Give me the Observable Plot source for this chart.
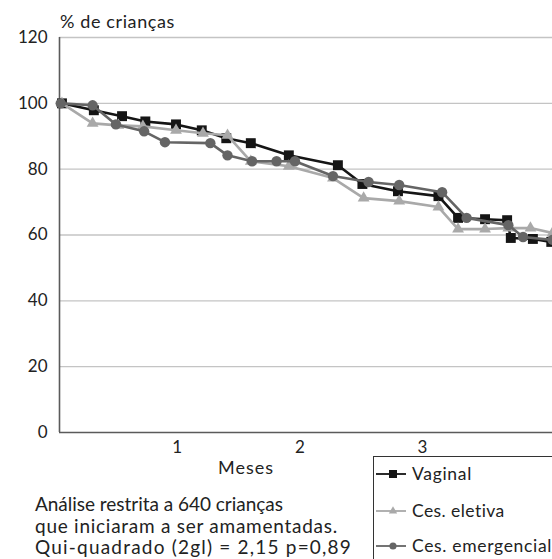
<!DOCTYPE html>
<html><head><meta charset="utf-8">
<script src="https://cdn.jsdelivr.net/npm/d3@7"></script>
<script src="https://cdn.jsdelivr.net/npm/@observablehq/plot@0.6"></script>
<style>
html,body{margin:0;padding:0;background:#fff;overflow:hidden;width:552px;height:559px}
#wrap{position:relative;width:552px;height:559px;font-family:Lato,"DejaVu Sans",sans-serif;color:#222}
.t{position:absolute;white-space:nowrap;line-height:1}
#legend{position:absolute;left:373px;top:456px;width:200px;height:120px;border:1.3px solid #333;box-sizing:border-box;background:#fff}
.row{position:absolute;left:0;display:flex;align-items:center;font-size:17.5px;white-space:nowrap}
.row svg{margin-right:4px}
</style></head><body><div id="wrap"></div>
<script>
// ---- data ----
const seriesNames = ["Vaginal", "Ces. eletiva", "Ces. emergencial"];
const vaginalMonths = [0.06,0.32,0.55,0.74,0.99,1.20,1.40,1.60,1.91,2.31,2.51,2.80,3.13,3.29,3.51,3.69,3.72,3.90,4.05];
const vaginalPct    = [100,97.9,96.1,94.5,93.6,91.8,89.4,87.9,84.2,81.2,75.5,73.3,71.8,65.2,64.8,64.5,59.1,58.8,57.9];
const eletivaMonths = [0.06,0.31,0.52,0.72,0.99,1.21,1.41,1.60,1.91,2.27,2.52,2.81,3.13,3.29,3.51,3.70,3.88,4.06];
const eletivaPct    = [100,93.9,93.3,93.0,91.8,90.9,90.3,82.4,80.9,77.3,71.2,70.3,68.5,61.8,61.8,62.1,62.1,60.6];
const emergMonths   = [0.05,0.31,0.50,0.73,0.90,1.27,1.41,1.61,1.81,1.96,2.27,2.56,2.81,3.16,3.36,3.70,3.82,4.06];
const emergPct      = [100,99.4,93.6,91.5,88.2,87.9,84.2,82.4,82.4,82.4,77.9,76.1,75.2,73.0,65.2,63.0,59.4,58.5];
const yTicks = [0,20,40,60,80,100,120];
const xTicks = [1,2,3];
const titleText = "% de crianças";
const xLabel = "Meses";
const captionLines = ["Análise restrita a 640 crianças","que iniciaram a ser amamentadas.","Qui-quadrado (2gl) = 2,15 p=0,89"];

// ---- styles ----
const colors = ["#151515", "#a9a9a9", "#656565"];
const symbols = ["square", "triangle", "circle"];
const radii = [5.6, 4.4, 5.2];

const raw = [[vaginalMonths, vaginalPct],[eletivaMonths, eletivaPct],[emergMonths, emergPct]];
const tables = raw.map(([m,p],i) => m.map((v,j) => ({series: seriesNames[i], month: v, pct: p[j]})));
const xDomain = [0.04, 4.06];

const marks = [
  Plot.ruleY(yTicks.filter(d => d > 0), {y: d => d, stroke: "#c4c4c4", strokeWidth: 1.4}),
  Plot.ruleY([0], {stroke: "#5a5a5a", strokeWidth: 1.6}),
  Plot.ruleX([xDomain[0]], {stroke: "#5a5a5a", strokeWidth: 1.6})
];
tables.forEach((t,i) => {
  marks.push(Plot.line(t, {x: "month", y: "pct", stroke: colors[i], strokeWidth: 2.6}));
  marks.push(Plot.dot(t, {x: "month", y: "pct", symbol: symbols[i], fill: colors[i], stroke: "none", r: radii[i]}));
});

const chart = Plot.plot({
  width: 552, height: 559,
  marginLeft: 59, marginRight: 0, marginTop: 37, marginBottom: 127,
  style: {fontFamily: 'Lato, "DejaVu Sans", sans-serif', fontSize: "17px", color: "#222", background: "white", overflow: "visible"},
  x: {domain: xDomain, ticks: xTicks, tickSize: 0, tickPadding: 8, label: null, tickFormat: d => String(d)},
  y: {domain: [0,120], ticks: yTicks, tickSize: 0, tickPadding: 12, label: null},
  marks
});
const wrap = document.getElementById("wrap");
wrap.appendChild(chart);
chart.style.position = "absolute"; chart.style.left = "0"; chart.style.top = "0";

// stretch text with letter-spacing so it covers the same width as in the reference
function fit(el, width) {
  const w = el.getBoundingClientRect().width;
  const n = el.textContent.length;
  if (n > 1) el.style.letterSpacing = ((width - w) / n).toFixed(2) + "px";
}
function addText(txt, left, top, size, width, anchor) {
  const d = document.createElement("div");
  d.className = "t"; d.textContent = txt;
  d.style.left = left + "px"; d.style.top = top + "px"; d.style.fontSize = size + "px";
  wrap.appendChild(d);
  fit(d, width);
  if (anchor === "middle") d.style.left = (left - width / 2) + "px";
  return d;
}
addText(titleText, 60, 12, 18, 115);
addText(xLabel, 246, 458, 18, 56, "middle");
const capWidths = [248, 303, 317];
captionLines.forEach((l,i) => addText(l, 35, 494 + i*21.5, 19, capWidths[i]));

const legend = document.createElement("div");
legend.id = "legend";
wrap.appendChild(legend);
const rowTops = [16, 53, 88];
const legWidths = [60, 93, 140];
seriesNames.forEach((n,i) => {
  const row = document.createElement("div");
  row.className = "row";
  row.style.top = (rowTops[i] - 10) + "px";
  const ns = "http://www.w3.org/2000/svg";
  const s = document.createElementNS(ns, "svg");
  s.setAttribute("width", 34); s.setAttribute("height", 20);
  const ln = document.createElementNS(ns, "line");
  ln.setAttribute("x1", 2); ln.setAttribute("x2", 32); ln.setAttribute("y1", 10); ln.setAttribute("y2", 10);
  ln.setAttribute("stroke", colors[i]); ln.setAttribute("stroke-width", 1.8);
  s.appendChild(ln);
  const p = document.createElementNS(ns, "path");
  const sym = [d3.symbolSquare, d3.symbolTriangle, d3.symbolCircle][i];
  p.setAttribute("d", d3.symbol(sym, [64, 30, 40][i])());
  p.setAttribute("transform", "translate(19,10)");
  p.setAttribute("fill", colors[i]);
  s.appendChild(p);
  row.appendChild(s);
  const tx = document.createElement("span");
  tx.textContent = n;
  row.appendChild(tx);
  legend.appendChild(row);
  fit(tx, legWidths[i]);
});
</script>
</body></html>
